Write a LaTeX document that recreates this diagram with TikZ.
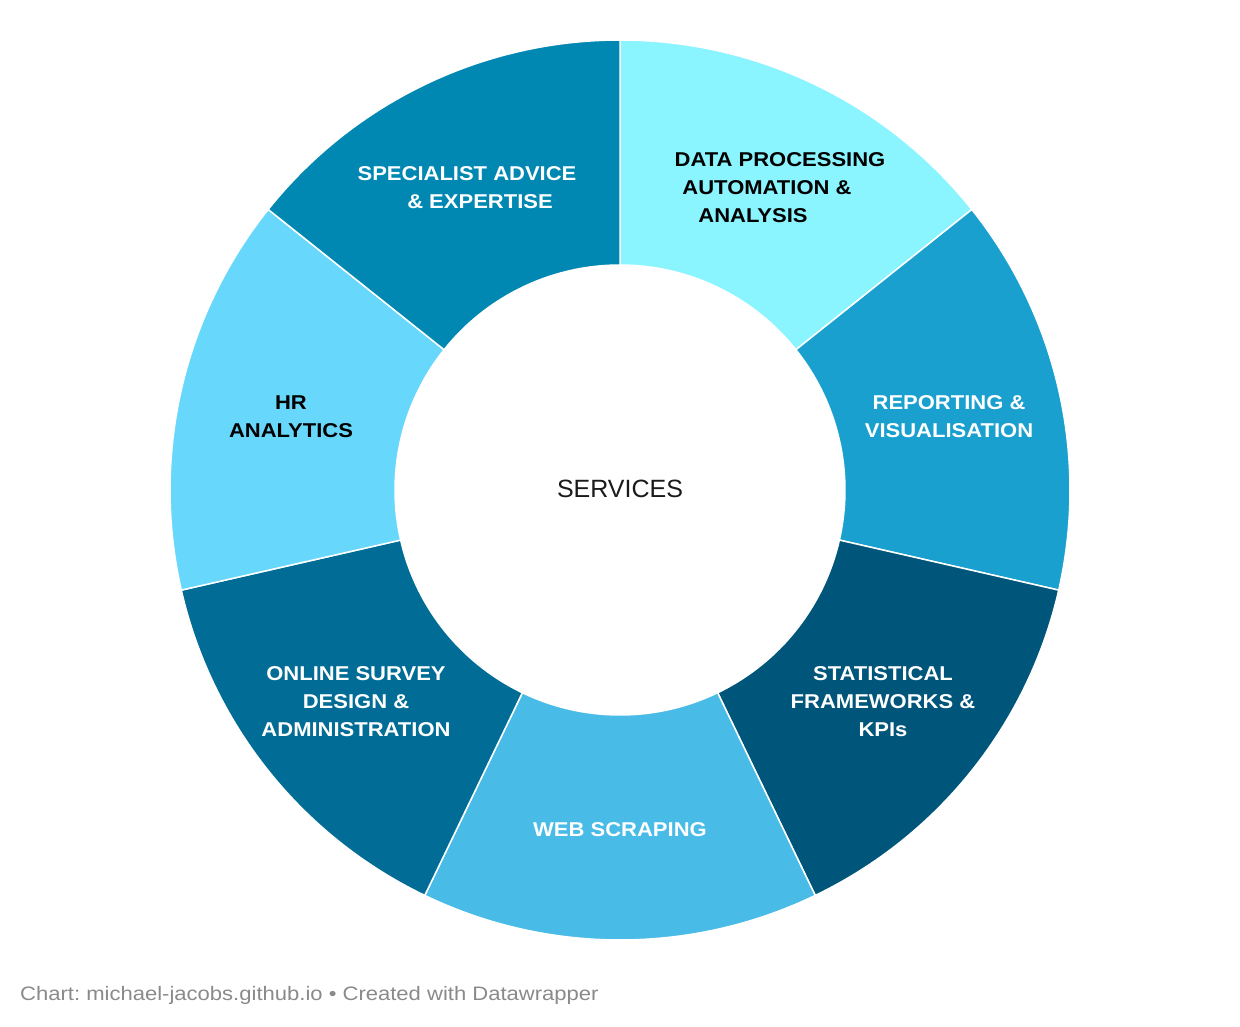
\documentclass[tikz,border=0pt]{standalone}
\usepackage{fontspec}
\setmainfont{Liberation Sans}
\newfontface\lblfont{Liberation Sans Bold}[FakeStretch=1.10]
\newfontface\footfont{Liberation Sans}[FakeStretch=1.13]
\definecolor{cA}{HTML}{8AF4FF}
\definecolor{cB}{HTML}{1AA0CE}
\definecolor{cC}{HTML}{00567A}
\definecolor{cD}{HTML}{48BBE7}
\definecolor{cE}{HTML}{016D96}
\definecolor{cF}{HTML}{67D8FC}
\definecolor{cG}{HTML}{0088B2}
\definecolor{foot}{HTML}{8A8A8A}
\definecolor{dark}{HTML}{1A1A1A}
\frenchspacing
\begin{document}
\begin{tikzpicture}[x=1pt,y=-1pt,
  wedge/.style={draw=white,line width=1.5pt},
  lbl/.style={anchor=base,inner sep=0pt,font=\lblfont\fontsize{20}{24}\selectfont},
  lw/.style={lbl,text=white},
  lk/.style={lbl,text=black}]
\useasboundingbox (0,0) rectangle (1240,1026);
\fill[white] (0,0) rectangle (1240,1026);
\coordinate (c) at (620,490);
\def\Ro{450}\def\Ri{225}
\foreach \i/\col in {0/cA,1/cB,2/cC,3/cD,4/cE,5/cF,6/cG}{
  \pgfmathsetmacro\sa{\i*360/7-90}
  \pgfmathsetmacro\ea{(\i+1)*360/7-90}
  \fill[\col,wedge] ([shift={(\sa:\Ro)}]c) arc[start angle=\sa,end angle=\ea,radius=\Ro]
     -- ([shift={(\ea:\Ri)}]c) arc[start angle=\ea,end angle=\sa,radius=\Ri] -- cycle;
}
% labels
\node[lk] (a1) at (780,166) {DATA PROCESSING};
\node[lk] (a2) at (767,194) {AUTOMATION \&};
\node[lk] (a3) at (753,222) {ANALYSIS};
\node[lw] (b1) at (949,409) {REPORTING \&};
\node[lw] (b2) at (949,437) {VISUALISATION};
\node[lw] (c1) at (883,680) {STATISTICAL};
\node[lw] (c2) at (883,708) {FRAMEWORKS \&};
\node[lw] (c3) at (883,736) {KPIs};
\node[lw] (d1) at (620,836) {WEB SCRAPING};
\node[lw] (e1) at (356,680) {ONLINE SURVEY};
\node[lw] (e2) at (356,708) {DESIGN \&};
\node[lw] (e3) at (356,736) {ADMINISTRATION};
\node[lk] (f1) at (291,409) {HR};
\node[lk] (f2) at (291,437) {ANALYTICS};
\node[lw] (g1) at (467,180) {SPECIALIST ADVICE};
\node[lw] (g2) at (480,208) {\& EXPERTISE};
\node[anchor=base,inner sep=0pt,text=dark,font=\fontsize{25}{30}\selectfont] (srv) at (620,497) {SERVICES};
\node[anchor=base west,inner sep=0pt,text=foot,font=\footfont\fontsize{19.5}{24}\selectfont] (ft) at (20,1000) {Chart: michael-jacobs.github.io • Created with Datawrapper};
\end{tikzpicture}
\end{document}
